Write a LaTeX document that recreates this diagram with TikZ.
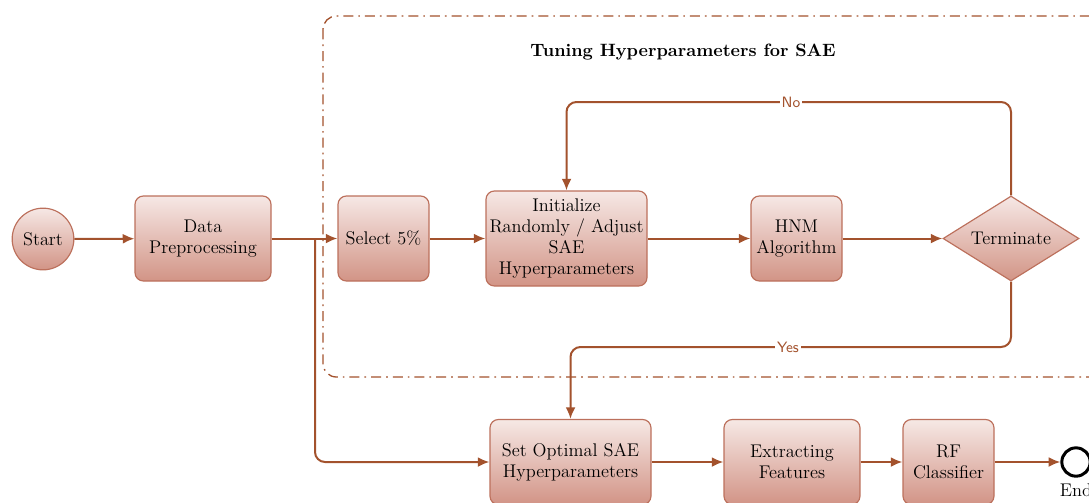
\documentclass[tikz,border=0pt]{standalone}
\usetikzlibrary{shapes.geometric,arrows.meta}
\definecolor{linebrown}{RGB}{163,82,45}
\definecolor{boxedge}{RGB}{188,112,92}
\definecolor{boxtop}{RGB}{246,232,229}
\definecolor{boxbottom}{RGB}{210,148,134}
\tikzset{
  procbox/.style={draw=boxedge, line width=0.7pt, rounded corners=5pt, top color=boxtop, bottom color=boxbottom,
    align=center, minimum height=51pt, inner sep=1pt, font=\fontsize{11}{12.6}\selectfont},
  startcirc/.style={circle, draw=boxedge, line width=0.7pt, top color=boxtop, bottom color=boxbottom,
    minimum size=37pt, inner sep=0pt, font=\fontsize{11}{12.6}\selectfont},
  decision/.style={diamond, draw=boxedge, line width=0.7pt, top color=boxtop, bottom color=boxbottom,
    aspect=1.6, minimum width=81.6pt, minimum height=51pt, inner sep=0pt,
    font=\fontsize{11}{12.6}\selectfont},
  endcirc/.style={circle, draw=black, line width=1.8pt, fill=white, minimum size=17pt, inner sep=0pt},
  flow/.style={draw=linebrown, line width=1.2pt, -{Latex[length=7pt,width=6pt]}},
  edgelabel/.style={fill=white, text=linebrown, inner sep=1pt, font=\sffamily\small},
}
\begin{document}
\begin{tikzpicture}[x=0.6pt,y=-0.6pt]
  \clip (0,0) rectangle (1089,502);

  % tuning frame
  \draw[linebrown, line width=0.8pt, dash pattern=on 6pt off 3pt on 1pt off 3pt, rounded corners=8pt]
    (323,16) rectangle (1130,377);
  \node[font=\bfseries\fontsize{10.7}{12}\selectfont] (title) at (683,52) {Tuning Hyperparameters for SAE};

  % main row
  \node[startcirc] (start) at (43,239) {Start};
  \node[procbox, minimum width=81.6pt] (prep) at (203,238.5) {Data\\Preprocessing};
  \node[procbox, minimum width=54.6pt] (select) at (383.5,238.5) {Select 5\%};
  \node[procbox, minimum width=96.6pt, minimum height=57pt] (init) at (566.5,238.5)
    {Initialize\\Randomly / Adjust\\SAE\\Hyperparameters};
  \node[procbox, minimum width=54.6pt] (hnm) at (796.5,238.5) {HNM\\Algorithm};
  \node[decision] (term) at (1011,238.5) {Terminate};

  % bottom row
  \node[procbox, minimum width=96.6pt] (setopt) at (570.5,462) {Set Optimal SAE\\Hyperparameters};
  \node[procbox, minimum width=81.6pt] (extract) at (792,462) {Extracting\\Features};
  \node[procbox, minimum width=54.6pt] (rf) at (948.5,462) {RF\\Classifier};
  \node[endcirc] (end) at (1076,462) {};
  \node[below=0pt, font=\fontsize{11}{12.6}\selectfont] (endlbl) at (end.south) {End};

  \coordinate (split) at (315,238.5);
  \coordinate (noy) at (0,102);
  \coordinate (yesy) at (0,347);

  \draw[flow] (start) -- (prep);
  \draw[flow] (prep) -- (select);
  \draw[flow, rounded corners=6pt] (split) |- (setopt.west);
  \draw[flow] (select) -- (init);
  \draw[flow] (init) -- (hnm);
  \draw[flow] (hnm) -- (term);
  \draw[flow, rounded corners=6pt] (term.north) -- (term.north |- noy) -| (init.north);
  \draw[flow, rounded corners=6pt] (term.south) -- (term.south |- yesy) -| (setopt.north);
  \node[edgelabel] (nolbl) at (791,102) {No};
  \node[edgelabel] (yeslbl) at (788,347) {Yes};

  \draw[flow] (setopt) -- (extract);
  \draw[flow] (extract) -- (rf);
  \draw[flow] (rf) -- (end);
\end{tikzpicture}
\end{document}
